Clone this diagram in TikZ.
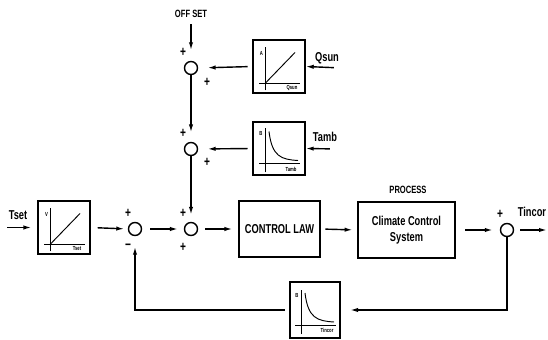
\documentclass[tikz,border=0pt]{standalone}
\usepackage{fontspec}
\newfontfamily\plotfont[FakeStretch=0.72]{Liberation Sans}
\usetikzlibrary{positioning,arrows.meta,calc}

\begin{document}
\begin{tikzpicture}[
  x=0.03cm, y=-0.03cm,
  line width=1.2pt,
  every node/.style={inner sep=1pt,font=\plotfont\bfseries\fontsize{11}{12}\selectfont},
  block/.style={draw,minimum height=1.68cm,align=center,inner sep=0pt},
  graphbox/.style={draw,minimum width=1.56cm,minimum height=1.6cm,inner sep=0pt},
  sumpt/.style={draw,circle,minimum size=0.39cm,inner sep=0pt},
  sign/.style={inner sep=0pt,font=\plotfont\bfseries\fontsize{12}{12}\selectfont},
  caption/.style={font=\plotfont\bfseries\fontsize{9}{10}\selectfont},
  tinylbl/.style={inner sep=0pt,font=\plotfont\bfseries\fontsize{5}{5}\selectfont},
  flow/.style={-{Latex[length=2.4mm,width=1.3mm]}}
]
\useasboundingbox (0,0) rectangle (548,340);

% summing points
\node[sumpt] (s1) at (191,68) {};
\node[sumpt] (s2) at (191,149) {};
\node[sumpt] (s3) at (191,229) {};
\node[sumpt] (c1) at (135,229) {};
\node[sumpt] (c3) at (507,230) {};

% characteristic blocks
\node[graphbox] (gsun) at (279,66.5) {};
\node[graphbox] (gamb) at (279,148.5) {};
\node[graphbox] (gset) at (64,227.5) {};
\node[graphbox,minimum width=1.5cm,minimum height=1.68cm] (gfb) at (315,310) {};

% main blocks
\node[block,minimum width=2.43cm] (law) at (279.5,229) {CONTROL LAW};
\node[block,minimum width=2.91cm] (proc) at (406.5,230) {Climate Control\\[2pt]System};
\node[caption] (proclbl) at (408,190) {PROCESS};
\node[caption] (offset) at (191,14) {OFF SET};

% signal names
\node (qsun) at (327,58) {Qsun};
\node (tamb) at (325,137) {Tamb};
\node (tset) at (18,215) {Tset};
\node (tincor) at (532,212) {Tincor};
\coordinate (qin) at (342,68);
\coordinate (tain) at (338,149);
\coordinate (tsin) at (7,227.5);
\coordinate (tout) at (547,230);

% signs at the summing points
\node[sign] (s1a) at ($(s1)+(-8,-16)$) {+};
\node[sign] (s1b) at ($(s1)+(16,14)$) {+};
\node[sign] (s2a) at ($(s2)+(-8,-16)$) {+};
\node[sign] (s2b) at ($(s2)+(16,13)$) {+};
\node[sign] (s3a) at ($(s3)+(-8,-16)$) {+};
\node[sign] (s3b) at ($(s3)+(-8,18)$) {+};
\node[sign] (c1a) at ($(c1)+(-7,-16)$) {+};
\node[sign] (c1b) at ($(c1)+(-7,18)$) {−};
\node[sign] (c3a) at ($(c3)+(-7,-16)$) {+};

% curves inside the blocks
\foreach \g/\ylab/\xlab in {gsun/A/Qsun,gset/V/Tset} {
  \begin{scope}[shift={(\g.center)},line width=0.8pt]
    \draw (-14,24) -- (-14,-19);
    \draw (-20,17) -- (21,17);
    \draw (-14,17) -- (16,-14);
    \node[tinylbl] at (-17.5,-13) {\ylab};
    \node[tinylbl] at (13,21.5) {\xlab};
  \end{scope}
}
\foreach \g/\ylab/\xlab in {gamb/B/Tamb,gfb/B/Tincor} {
  \begin{scope}[shift={(\g.center)},line width=0.8pt]
    \draw (-14,24) -- (-14,-20);
    \draw (-20,15) -- (21,15);
    \draw (-10,-17) .. controls (-7,8) and (2,11) .. (19,12);
    \node[tinylbl] at (-18,-15) {\ylab};
    \node[tinylbl] at (12,20.5) {\xlab};
  \end{scope}
}

% disturbance chain
\draw[flow,shorten <=4pt,shorten >=9pt] (offset.south) -- (s1.north);
\draw[flow,shorten <=7pt] (qin) -- (gsun.east);
\draw[flow,shorten <=4pt,shorten >=8pt] (gsun.west) -- (s1.east);
\draw[flow,shorten >=8pt] (s1.south) -- (s2.north);
\draw[flow,shorten <=7pt] (tain) -- (gamb.east);
\draw[flow,shorten <=4pt,shorten >=8pt] (gamb.west) -- (s2.east);
\draw[flow,shorten >=6pt] (s2.south) -- (s3.north);

% forward path
\draw[flow,shorten >=5pt] (tsin) -- (gset.west);
\draw[flow,shorten <=6pt,shorten >=3pt] (gset.east) -- (c1.west);
\draw[flow,shorten <=7pt,shorten >=5pt] (c1.east) -- (s3.west);
\draw[flow,shorten <=6pt,shorten >=5pt] (s3.east) -- (law.west);
\draw[flow,shorten <=4pt,shorten >=4pt] (law.east) -- (proc.west);
\draw[flow,shorten <=8pt,shorten >=6pt] (proc.east) -- (c3.west);
\draw[flow,shorten <=5pt] (c3.east) -- (tout);

% feedback path
\draw[flow,shorten >=8pt] (c3.south) |- (gfb.east);
\draw[flow,shorten <=4pt,shorten >=9pt] (gfb.west) -| (c1.south);
\end{tikzpicture}
\end{document}
